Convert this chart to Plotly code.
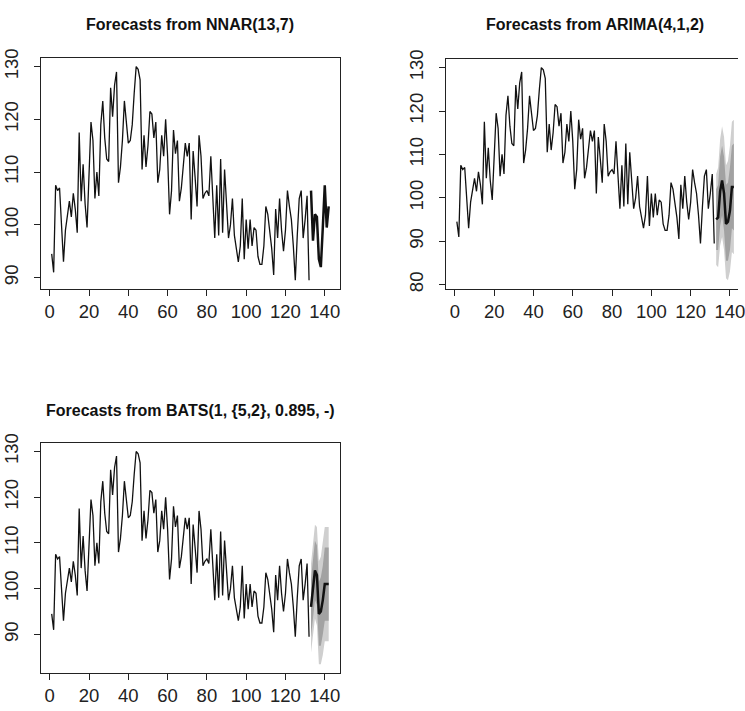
import plotly.graph_objects as go

# ---------------- data ----------------
obs_x = list(range(1, 133))
observed = [94.5, 91, 107.5, 106.5, 107, 101, 93, 99, 102, 104.5,
            101.5, 106, 103, 98.5, 117.5, 104.5, 111.5, 104, 99.5, 111.5,
            119.5, 116, 105, 110, 105.5, 119, 123.5, 116.5, 112.5, 112,
            126, 120.5, 126.5, 129, 108, 111, 116, 123.5, 119.5, 115.5,
            116, 119, 125, 130, 129.5, 127.5, 110.5, 117, 111, 115,
            121.5, 121, 116.5, 119.5, 108, 110.5, 117, 113, 120, 113,
            102, 106.5, 118, 113.5, 116, 104.5, 107, 112, 115.5, 113,
            115.5, 101, 114, 109, 103.5, 117, 113, 105, 106, 106.5,
            105.5, 113, 106, 97.5, 107.5, 98, 112.5, 98.5, 110.5, 103.5,
            97.5, 100, 105, 98, 95.5, 93, 96, 105, 93.5, 101,
            95.5, 101, 96, 99.5, 99, 94, 92.5, 92.5, 96, 103.5,
            102, 98.5, 95.5, 90.5, 103, 97.5, 105, 99, 95, 99,
            106.5, 103.5, 101, 96, 89.5, 98, 105, 106.5, 97.5, 101,
            105.5, 89.5]

fc_x = list(range(133, 143))

nnar_fc = [106.5, 97, 102, 101.5, 93.5, 92, 99.5, 107.5, 99.5, 103.5]

arima_fc = [95, 95.5, 101.5, 104, 101, 94, 94.5, 97, 102.5, 102.5]
arima_lo80 = [88, 88, 93.5, 96, 92.5, 85.5, 85.5, 88, 93, 92.5]
arima_hi80 = [102, 103, 109.5, 112, 109.5, 103, 103.5, 107, 112, 112.5]
arima_lo95 = [84.5, 84, 89, 91, 88, 81.5, 81, 83, 87.5, 87]
arima_hi95 = [105.5, 107, 113.5, 116.5, 114, 107.5, 108.5, 112, 117.5, 118]

bats_fc = [96, 100.5, 104, 103, 94.5, 95, 97.5, 101, 101, 101]
bats_lo80 = [89.5, 94, 97.5, 96.5, 87.5, 87.5, 90, 93, 93, 93]
bats_hi80 = [102, 107, 110.5, 109.5, 101.5, 102.5, 105, 109, 109, 109]
bats_lo95 = [86, 90, 93.5, 92, 83.5, 83.5, 85.5, 88.5, 88.5, 88.5]
bats_hi95 = [105.5, 110.5, 114, 113.5, 106, 107, 110, 113.5, 113.5, 113.5]

titles = ["Forecasts from NNAR(13,7)",
          "Forecasts from ARIMA(4,1,2)",
          "Forecasts from BATS(1, {5,2}, 0.895, -)"]
x_ticks = [0, 20, 40, 60, 80, 100, 120, 140]

# ---------------- styling ----------------
W, H = 745, 711
FONT = "Liberation Sans, Arial, sans-serif"
LIGHT = "#cfcfcf"
DARK = "#a2a2a2"
LINE = "#111111"


def band(fig, xa, ya, lo, hi, color):
    fig.add_trace(go.Scatter(x=fc_x + fc_x[::-1], y=hi + lo[::-1], fill="toself",
                             fillcolor=color, line=dict(width=0), mode="lines",
                             hoverinfo="skip", showlegend=False, xaxis=xa, yaxis=ya))


def series(fig, xa, ya, x, y, width):
    fig.add_trace(go.Scatter(x=x, y=y, mode="lines", line=dict(color=LINE, width=width),
                             showlegend=False, xaxis=xa, yaxis=ya))


fig = go.Figure()

# NNAR
series(fig, "x", "y", obs_x, observed, 1.3)
series(fig, "x", "y", fc_x, nnar_fc, 2.5)
# ARIMA
band(fig, "x2", "y2", arima_lo95, arima_hi95, LIGHT)
band(fig, "x2", "y2", arima_lo80, arima_hi80, DARK)
series(fig, "x2", "y2", obs_x, observed, 1.3)
series(fig, "x2", "y2", fc_x, arima_fc, 2.5)
# BATS
band(fig, "x3", "y3", bats_lo95, bats_hi95, LIGHT)
band(fig, "x3", "y3", bats_lo80, bats_hi80, DARK)
series(fig, "x3", "y3", obs_x, observed, 1.3)
series(fig, "x3", "y3", fc_x, bats_fc, 2.5)


def px_x(a, b):
    return [a / W, min(b / W, 1.0)]


def px_y(top, bottom):
    return [1 - bottom / H, 1 - top / H]


axis_common = dict(showgrid=False, zeroline=False, showline=True, linecolor="#222",
                   linewidth=1, ticks="outside", ticklen=6, tickcolor="#222",
                   tickfont=dict(family=FONT, size=18.5, color="#222"))

xr = [-4.64, 147.64]

layout_axes = dict(
    xaxis=dict(domain=px_x(41, 343), range=xr, tickvals=x_ticks, anchor="y",
               mirror=True, **axis_common),
    yaxis=dict(domain=px_y(49, 284), range=[87.88, 131.62], dtick=10, tick0=0,
               tickangle=-90, anchor="x", mirror=True, ticklabelstandoff=8, **axis_common),
    xaxis2=dict(domain=px_x(450, 745), range=[-4.64, 144.1], tickvals=x_ticks, anchor="y2",
                mirror=True, ticklabeloverflow="allow", **axis_common),
    yaxis2=dict(domain=px_y(50, 284), range=[79.04, 131.96], dtick=10, tick0=0,
                tickangle=-90, anchor="x2", mirror=False, ticklabelstandoff=8, **axis_common),
    xaxis3=dict(domain=px_x(41, 343), range=xr, tickvals=x_ticks, anchor="y3",
                mirror=True, **axis_common),
    yaxis3=dict(domain=px_y(441, 675), range=[81.64, 131.86], dtick=10, tick0=0,
                tickangle=-90, anchor="x3", mirror=True, ticklabelstandoff=8, **axis_common),
)

fig.update_layout(width=W, height=H, margin=dict(l=0, r=0, t=0, b=0),
                  paper_bgcolor="white", plot_bgcolor="white", showlegend=False,
                  **layout_axes)

title_pos = [((41 + 343) / 2, 15), ((450 + 752) / 2, 15), ((41 + 343) / 2, 408)]
for t, (cx, cy) in zip(titles, title_pos):
    fig.add_annotation(text="<b>" + t + "</b>", x=cx / W, y=1 - cy / H, xref="paper",
                       yref="paper", showarrow=False, xanchor="center", yanchor="middle",
                       font=dict(family=FONT, size=16, color="#111"))

fig.write_html("out.html",
               config={"displayModeBar": False},
               post_script="document.body.style.margin='0px';"
                           "document.body.style.padding='0px';"
                           "document.body.style.overflow='hidden';")
